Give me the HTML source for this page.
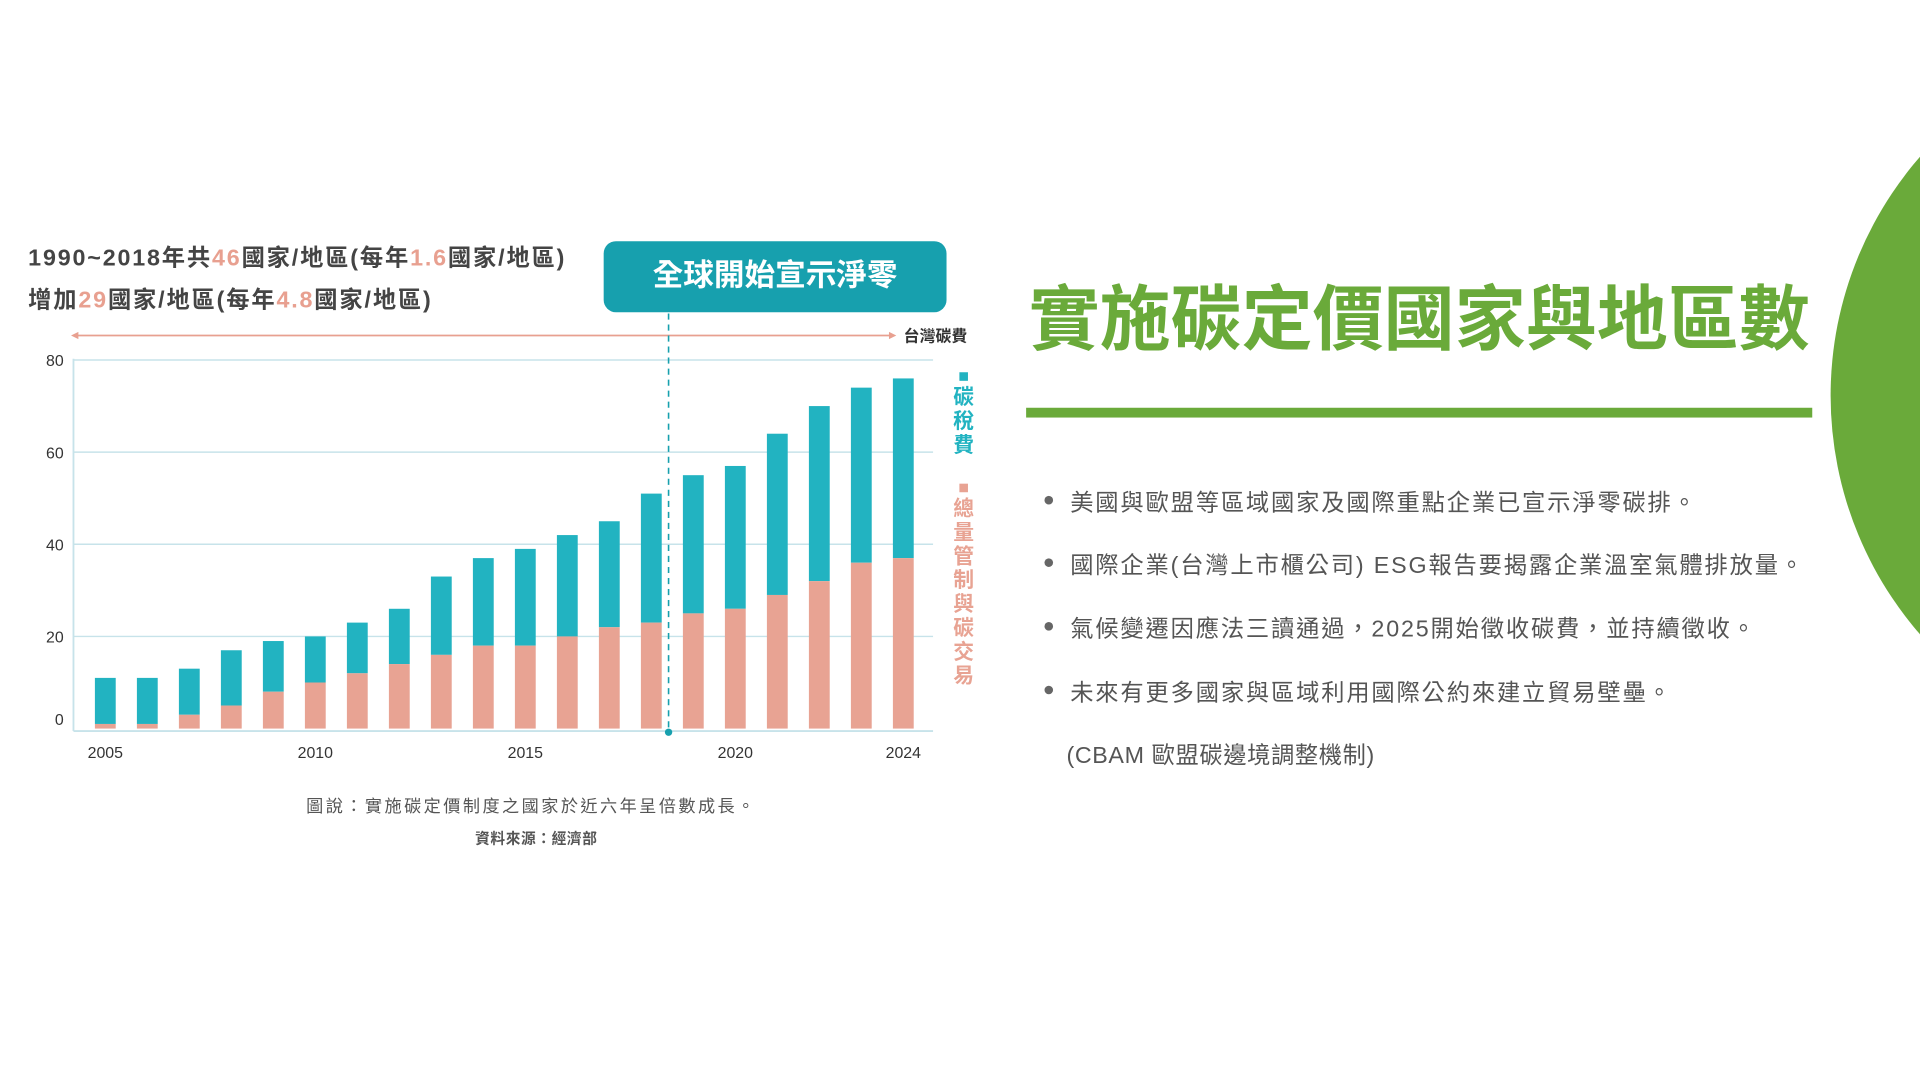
<!DOCTYPE html>
<html><head><meta charset="utf-8">
<style>
html,body{margin:0;padding:0;background:#fff;overflow:hidden;width:1920px;height:1080px}
#clip{position:absolute;left:0;top:0;width:1920px;height:1080px;overflow:hidden}
#wrap{position:absolute;left:0;top:0;width:1568px;height:882px;overflow:hidden;transform:scale(1.22449);transform-origin:0 0;font-family:"Liberation Sans","Noto Sans CJK TC",sans-serif}
.abs{position:absolute;white-space:nowrap}
.hd{font-size:19px;font-weight:bold;color:#444;letter-spacing:1.5px}
.hd span{color:#e8a090}
.bul{font-size:19px;color:#555;left:874px;letter-spacing:1.5px}
.dot{position:absolute;left:853px;width:7px;height:7px;border-radius:50%;background:#666}
</style></head><body>
<div id="clip">
<div id="wrap">
<div class="abs" style="left:1495px;top:26px;width:594px;height:594px;border-radius:50%;background:#6aaa3a"></div>

<div class="abs hd" style="left:23px;top:196px">1990~2018年共<span>46</span>國家/地區(每年<span>1.6</span>國家/地區)</div>
<div class="abs hd" style="left:23px;top:230px">增加<span>29</span>國家/地區(每年<span>4.8</span>國家/地區)</div>
<div class="abs" style="left:493px;top:197px;width:280px;height:58px;border-radius:10px;background:#17a0ae;color:#fff;font-size:25px;font-weight:bold;text-align:center;line-height:56px">全球開始宣示淨零</div>

<svg id="chart" class="abs" style="left:0;top:0" width="820" height="720"></svg>

<div class="abs" style="left:434px;top:648px;transform:translateX(-50%);font-size:14px;color:#555;letter-spacing:2px">圖說：實施碳定價制度之國家於近六年呈倍數成長。</div>
<div class="abs" style="left:438px;top:676px;transform:translateX(-50%);font-size:12px;font-weight:bold;color:#555;letter-spacing:0.5px">資料來源：經濟部</div>

<div class="abs" style="left:840px;top:214px;font-size:58px;font-weight:bold;color:#6aaa3a">實施碳定價國家與地區數</div>
<div class="abs" style="left:838px;top:333px;width:642px;height:8px;background:#6aaa3a"></div>

<div class="dot" style="top:405px"></div>
<div class="abs bul" style="top:396px">美國與歐盟等區域國家及國際重點企業已宣示淨零碳排。</div>
<div class="dot" style="top:456px"></div>
<div class="abs bul" style="top:447px">國際企業(台灣上市櫃公司) ESG報告要揭露企業溫室氣體排放量。</div>
<div class="dot" style="top:508px"></div>
<div class="abs bul" style="top:499px">氣候變遷因應法三讀通過，2025開始徵收碳費，並持續徵收。</div>
<div class="dot" style="top:560px"></div>
<div class="abs bul" style="top:551px">未來有更多國家與區域利用國際公約來建立貿易壁壘。</div>
<div class="abs bul" style="top:602px;left:871px;letter-spacing:0.5px">(CBAM 歐盟碳邊境調整機制)</div>
</div>
</div>
<script>
const years=[2005,2006,2007,2008,2009,2010,2011,2012,2013,2014,2015,2016,2017,2018,2019,2020,2021,2022,2023,2024];
const etsValues=[1,1,3,5,8,10,12,14,16,18,18,20,22,23,25,26,29,32,36,37];
const totalValues=[11,11,13,17,19,20,23,26,33,37,39,42,45,51,55,57,64,70,74,76];
const yTicks=[0,20,40,60,80];
const xTickLabels=["2005","2010","2015","2020","2024"];

const NS="http://www.w3.org/2000/svg";
const svg=document.getElementById('chart');
const y0=595,y80=294,left=60,right=762;
function yScale(v){return y0-(y0-y80)*v/80;}
function xScale(yr){return 86+(yr-2005)*34.3;}
function mk(tag,attrs,parent){const e=document.createElementNS(NS,tag);for(const k in attrs)e.setAttribute(k,attrs[k]);(parent||svg).appendChild(e);return e;}

let e=mk('line',{x1:60,y1:274,x2:728,y2:274,stroke:'#e8a090','stroke-width':1.5});


mk('path',{d:'M58 274 l6 -3 v6z',fill:'#e8a090'});
mk('path',{d:'M732 274 l-6 -3 v6z',fill:'#e8a090'});
e=mk('text',{x:738,y:279,'font-size':13,'font-weight':'bold',fill:'#333'});
e.textContent='台灣碳費';



yTicks.forEach(t=>{
  const y=yScale(t);
  if(t>0){
    const g=mk('line',{x1:left,y1:y,x2:right,y2:y,stroke:'#c7e3ea','stroke-width':1.2});
    
    
  }
  const tx=mk('text',{x:52,y:y+(t===0?-3:5),'font-size':13,fill:'#333','text-anchor':'end'});
  tx.textContent=t;
  
  
});
e=mk('line',{x1:left,y1:y0+2,x2:right,y2:y0+2,stroke:'#c7e3ea','stroke-width':1.5});


e=mk('line',{x1:left,y1:y80-1,x2:left,y2:y0+2,stroke:'#c7e3ea','stroke-width':1.5});



years.forEach((yr,i)=>{
  const cx=xScale(yr),w=17;
  const t=mk('rect',{x:cx-w/2,y:yScale(totalValues[i]),width:w,height:yScale(etsValues[i])-yScale(totalValues[i]),fill:'#22b3c1'});
  
  
  const p=mk('rect',{x:cx-w/2,y:yScale(etsValues[i]),width:w,height:y0-yScale(etsValues[i]),fill:'#e8a393'});
  
  
});
xTickLabels.forEach(l=>{
  const tx=mk('text',{x:xScale(+l),y:619,'font-size':13,fill:'#333','text-anchor':'middle'});
  tx.textContent=l;
  
  
});

e=mk('line',{x1:546,y1:256,x2:546,y2:598,stroke:'#17a0ae','stroke-width':1.3,'stroke-dasharray':'5 4'});


mk('circle',{cx:546,cy:598,r:3,fill:'#17a0ae'});

function vtext(str,x,y,color,name){
  const g=mk('g',{});
  
  
  mk('rect',{x:x-3.5,y:y-4,width:7,height:7,fill:color},g);
  [...str].forEach((c,i)=>{const t=mk('text',{x:x,y:y+22+i*19.5,'font-size':17,'font-weight':'bold',fill:color,'text-anchor':'middle'},g);t.textContent=c;});
}
vtext('碳稅費',787,308,'#22b3c1','legend-carbon-tax');
vtext('總量管制與碳交易',787,399,'#e8a393','legend-ets');
</script>
</body></html>
